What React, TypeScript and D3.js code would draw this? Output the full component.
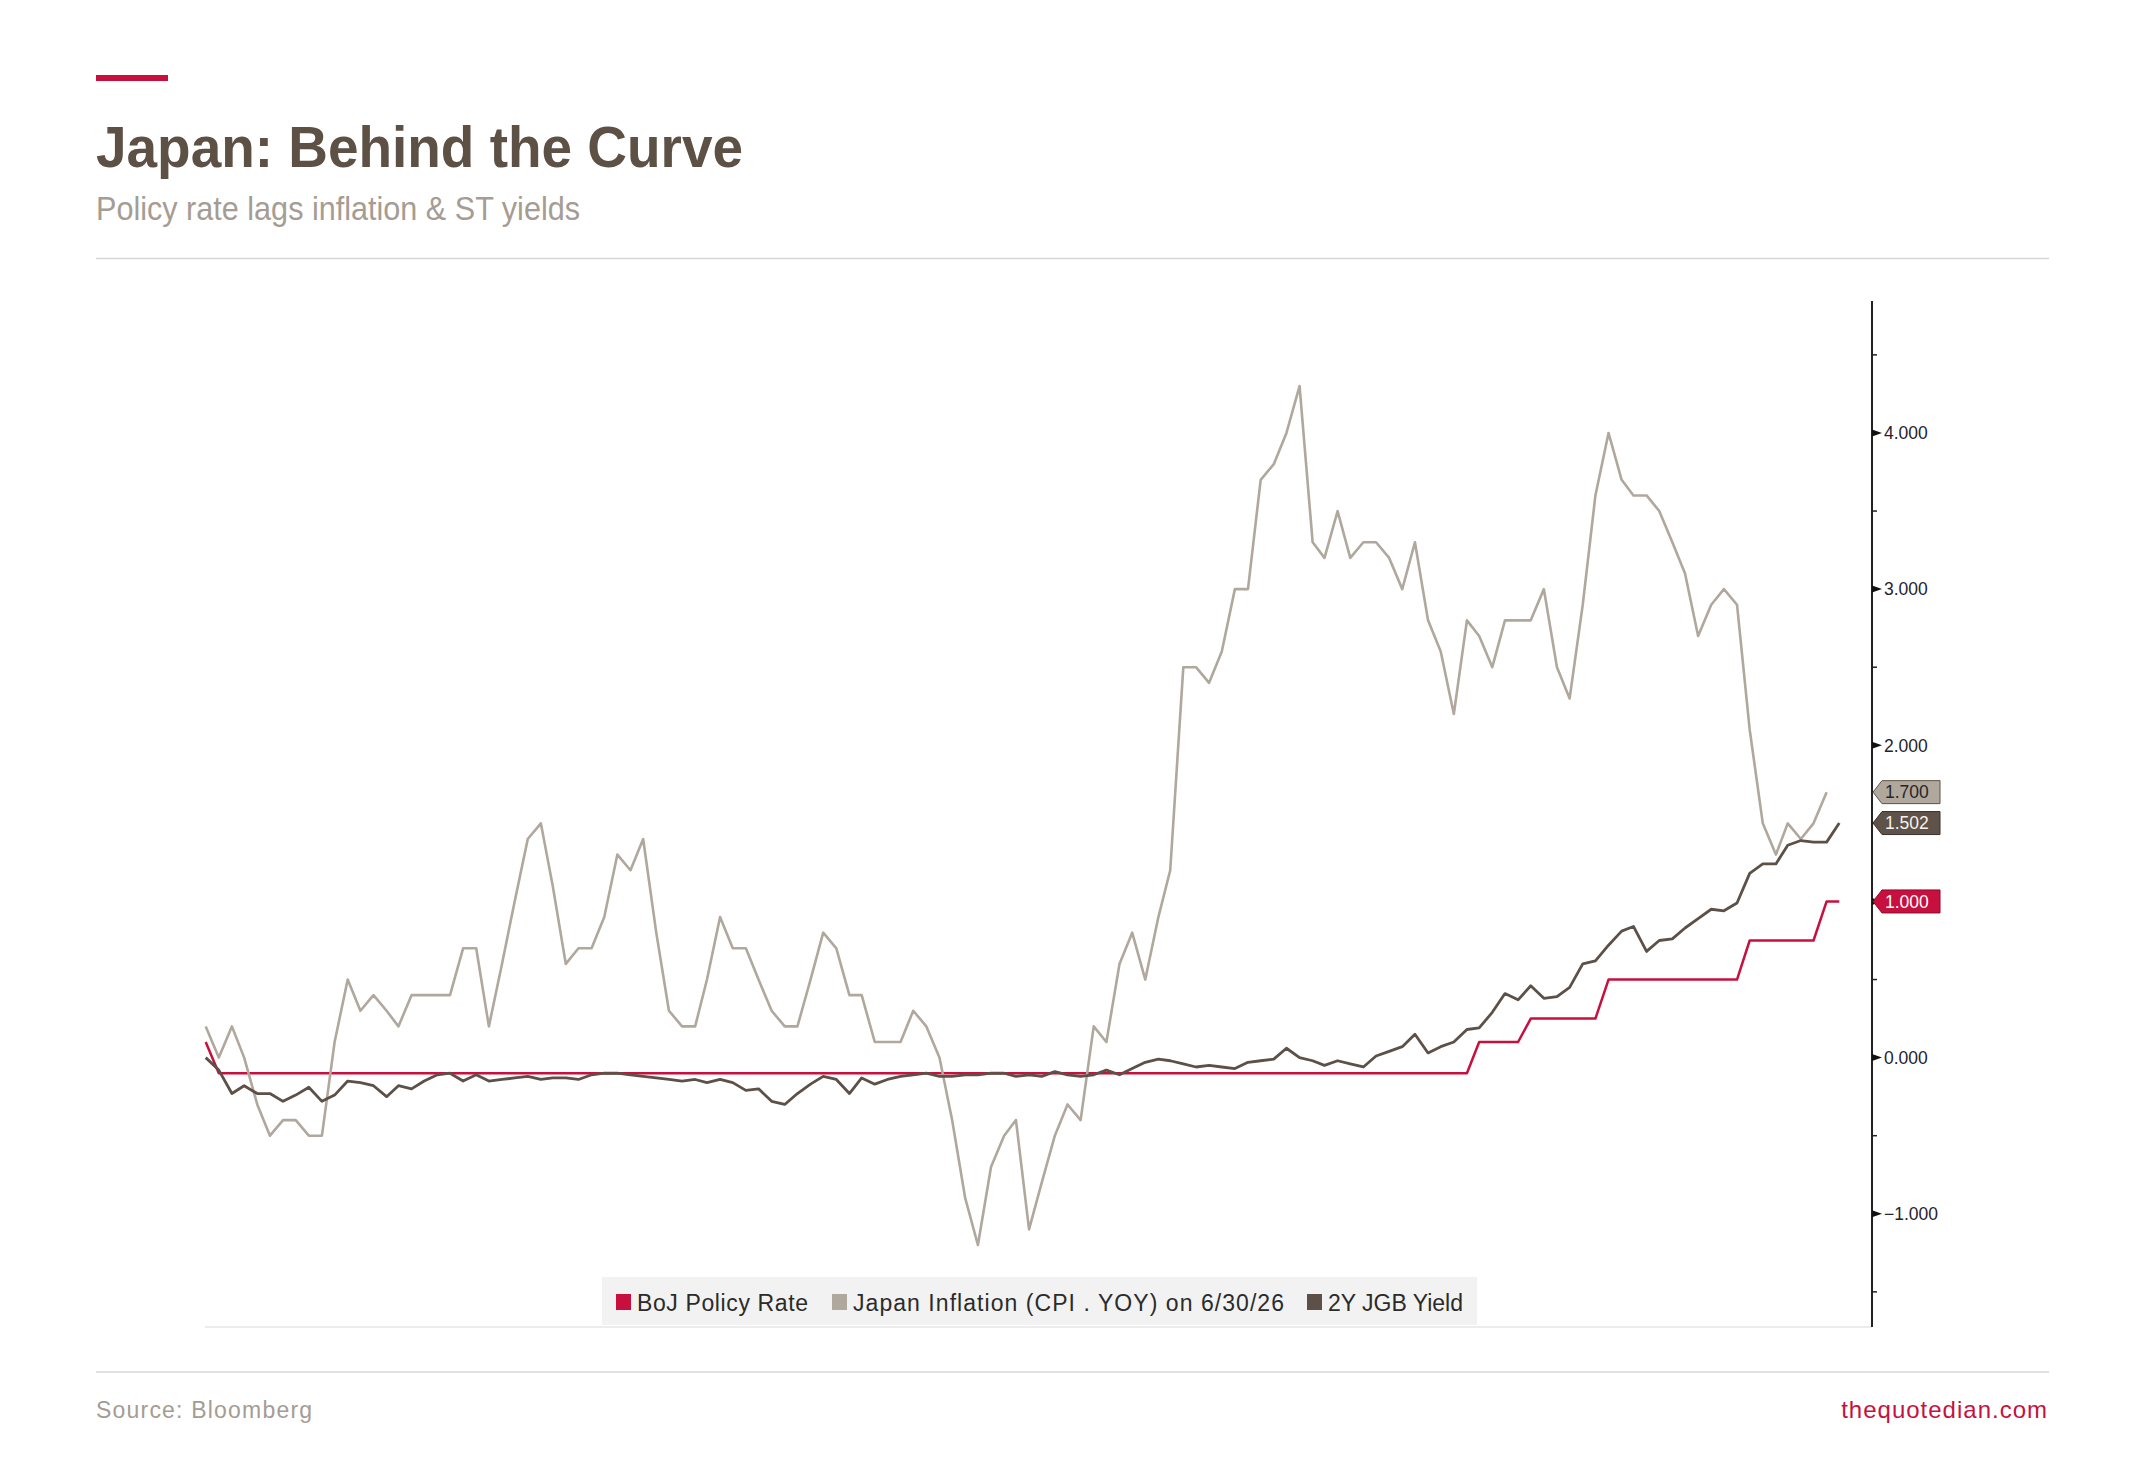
import { useEffect } from "react"
import * as d3 from "d3"

// Monthly observations, Dec 2015 .. Jul 2026
const months = d3.timeMonths(new Date(2015, 11, 1), new Date(2026, 7, 1))

// Japan CPI YoY (%), one month shorter than the other two series
const inflation = [
  0.2, 0.0, 0.2, 0.0, -0.3, -0.5, -0.4, -0.4, -0.5, -0.5, 0.1, 0.5, 0.3,
  0.4, 0.3, 0.2, 0.4, 0.4, 0.4, 0.4, 0.7, 0.7, 0.2, 0.6, 1.0,
  1.4, 1.5, 1.1, 0.6, 0.7, 0.7, 0.9, 1.3, 1.2, 1.4, 0.8, 0.3,
  0.2, 0.2, 0.5, 0.9, 0.7, 0.7, 0.5, 0.3, 0.2, 0.2, 0.5, 0.8,
  0.7, 0.4, 0.4, 0.1, 0.1, 0.1, 0.3, 0.2, 0.0, -0.4, -0.9, -1.2,
  -0.7, -0.5, -0.4, -1.1, -0.8, -0.5, -0.3, -0.4, 0.2, 0.1, 0.6, 0.8,
  0.5, 0.9, 1.2, 2.5, 2.5, 2.4, 2.6, 3.0, 3.0, 3.7, 3.8, 4.0,
  4.3, 3.3, 3.2, 3.5, 3.2, 3.3, 3.3, 3.2, 3.0, 3.3, 2.8, 2.6,
  2.2, 2.8, 2.7, 2.5, 2.8, 2.8, 2.8, 3.0, 2.5, 2.3, 2.9, 3.6,
  4.0, 3.7, 3.6, 3.6, 3.5, 3.3, 3.1, 2.7, 2.9, 3.0, 2.9, 2.1,
  1.5, 1.3, 1.5, 1.4, 1.5, 1.7,
]

// 2Y JGB yield (%)
const jgb2y = [
  0.0, -0.08, -0.23, -0.18, -0.23, -0.23, -0.28, -0.24, -0.19, -0.28, -0.24, -0.15, -0.16,
  -0.18, -0.25, -0.18, -0.2, -0.15, -0.11, -0.1, -0.15, -0.11, -0.15, -0.14, -0.13,
  -0.12, -0.14, -0.13, -0.13, -0.14, -0.11, -0.1, -0.1, -0.11, -0.12, -0.13, -0.14,
  -0.15, -0.14, -0.16, -0.14, -0.16, -0.21, -0.2, -0.28, -0.3, -0.23, -0.17, -0.12,
  -0.14, -0.23, -0.13, -0.17, -0.14, -0.12, -0.11, -0.1, -0.12, -0.12, -0.11, -0.11,
  -0.1, -0.1, -0.12, -0.11, -0.12, -0.09, -0.11, -0.12, -0.11, -0.08, -0.11, -0.07,
  -0.03, -0.01, -0.02, -0.04, -0.06, -0.05, -0.06, -0.07, -0.03, -0.02, -0.01, 0.06,
  0.0, -0.02, -0.05, -0.02, -0.04, -0.06, 0.01, 0.04, 0.07, 0.15, 0.03, 0.07,
  0.1, 0.18, 0.19, 0.29, 0.41, 0.37, 0.46, 0.38, 0.39, 0.45, 0.6, 0.62,
  0.72, 0.81, 0.84, 0.68, 0.75, 0.76, 0.83, 0.89, 0.95, 0.94, 0.99, 1.18,
  1.24, 1.24, 1.36, 1.39, 1.38, 1.38, 1.502,
]

// BoJ policy rate (%)
const policyRate = [
  0.1, -0.1, -0.1, -0.1, -0.1, -0.1, -0.1, -0.1, -0.1, -0.1, -0.1, -0.1, -0.1,
  -0.1, -0.1, -0.1, -0.1, -0.1, -0.1, -0.1, -0.1, -0.1, -0.1, -0.1, -0.1,
  -0.1, -0.1, -0.1, -0.1, -0.1, -0.1, -0.1, -0.1, -0.1, -0.1, -0.1, -0.1,
  -0.1, -0.1, -0.1, -0.1, -0.1, -0.1, -0.1, -0.1, -0.1, -0.1, -0.1, -0.1,
  -0.1, -0.1, -0.1, -0.1, -0.1, -0.1, -0.1, -0.1, -0.1, -0.1, -0.1, -0.1,
  -0.1, -0.1, -0.1, -0.1, -0.1, -0.1, -0.1, -0.1, -0.1, -0.1, -0.1, -0.1,
  -0.1, -0.1, -0.1, -0.1, -0.1, -0.1, -0.1, -0.1, -0.1, -0.1, -0.1, -0.1,
  -0.1, -0.1, -0.1, -0.1, -0.1, -0.1, -0.1, -0.1, -0.1, -0.1, -0.1, -0.1,
  -0.1, -0.1, 0.1, 0.1, 0.1, 0.1, 0.25, 0.25, 0.25, 0.25, 0.25, 0.25,
  0.5, 0.5, 0.5, 0.5, 0.5, 0.5, 0.5, 0.5, 0.5, 0.5, 0.5, 0.75,
  0.75, 0.75, 0.75, 0.75, 0.75, 1.0, 1.0,
]

const majorTicks = [-1, 0, 1, 2, 3, 4]
const minorTicks = [-1.5, -0.5, 0.5, 1.5, 2.5, 3.5, 4.5]

const legendLabels = ["BoJ Policy Rate", "Japan Inflation (CPI . YOY) on 6/30/26", "2Y JGB Yield"]

// styles
const RED = "#c8103e"
const LIGHT = "#b0a79d"
const DARK = "#5c5047"
const TITLE = "#5d5045"
const MUTED = "#a59c93"
const SANS = "'Liberation Sans', Arial, sans-serif"

const W = 2145
const H = 1458

export default function App() {
  useEffect(() => {
    document.body.style.margin = "0"
    document.body.style.background = "#ffffff"
  }, [])

  const x = d3
    .scaleTime()
    .domain([months[0], months[months.length - 1]])
    .range([205.7, 1839.3])
  const y = d3.scaleLinear().domain([-1.725, 4.845]).range([1327, 301])
  const axisX = 1872

  const line = d3
    .line<number>()
    .x((_, i) => x(months[i]))
    .y((d) => y(d))

  const fmt = d3.format(".3f")

  const series = [
    { values: policyRate, color: RED, width: 2.5 },
    { values: inflation, color: LIGHT, width: 2.6 },
    { values: jgb2y, color: DARK, width: 2.8 },
  ]

  // right-axis value tags
  const tags = [
    { value: inflation[inflation.length - 1], fill: "#b0a79d", stroke: "#5e5249", text: "#262626" },
    { value: jgb2y[jgb2y.length - 1], fill: "#5e5249", stroke: "#3a322c", text: "#f4f1ee" },
    { value: policyRate[policyRate.length - 1], fill: RED, stroke: "#8e0a2b", text: "#ffffff" },
  ]
  const tagPath = (cy: number) => {
    const h = 11.5
    return `M${axisX + 1},${cy} L${axisX + 10},${cy - h} L${axisX + 68},${cy - h} L${axisX + 68},${cy + h} L${axisX + 10},${cy + h} Z`
  }

  const legendColors = [RED, LIGHT, DARK]
  const legendSwatchX = [616, 832, 1307]
  const legendTextLen = [171, 431, 135]

  return (
    <svg width={W} height={H} viewBox={`0 0 ${W} ${H}`} style={{ display: "block", background: "#fff" }}>
      {/* header */}
      <rect x={96} y={75} width={72} height={6} fill={RED} />
      <text x={96} y={167} fontFamily={SANS} fontWeight={700} fontSize={58} fill={TITLE} textLength={647} lengthAdjust="spacingAndGlyphs">
        Japan: Behind the Curve
      </text>
      <text x={96} y={220} fontFamily={SANS} fontSize={33} fill={MUTED} textLength={484} lengthAdjust="spacingAndGlyphs">
        Policy rate lags inflation &amp; ST yields
      </text>
      <line x1={96} x2={2049} y1={258.5} y2={258.5} stroke="#d6d6d6" strokeWidth={1.5} />

      {/* plot frame */}
      <line x1={205} x2={axisX} y1={1327} y2={1327} stroke="#e6e6e6" strokeWidth={1.5} />

      {/* legend */}
      <rect x={602} y={1277} width={875} height={48} fill="#f2f2f2" />
      {legendLabels.map((label, i) => (
        <g key={label}>
          <rect x={legendSwatchX[i]} y={1294} width={15} height={16} fill={legendColors[i]} />
          <text
            x={legendSwatchX[i] + 21}
            y={1311}
            fontFamily={SANS}
            fontSize={23}
            fill="#2b2b2b"
            textLength={legendTextLen[i]}
            lengthAdjust="spacing"
          >
            {label}
          </text>
        </g>
      ))}

      {/* series */}
      {series.map((s, i) => (
        <path
          key={i}
          d={line(s.values) ?? ""}
          fill="none"
          stroke={s.color}
          strokeWidth={s.width}
          strokeLinejoin="round"
        />
      ))}

      {/* right axis */}
      <line x1={axisX} x2={axisX} y1={301} y2={1327} stroke="#222" strokeWidth={2} />
      {minorTicks.map((t) => (
        <line key={t} x1={axisX} x2={axisX + 5} y1={y(t)} y2={y(t)} stroke="#222" strokeWidth={1.5} />
      ))}
      {majorTicks.map((t) => (
        <g key={t}>
          <path d={`M${axisX},${y(t) - 3.5} L${axisX + 10},${y(t)} L${axisX},${y(t) + 3.5} Z`} fill="#111" />
          <text x={axisX + 12} y={y(t)} dy="0.36em" fontFamily={SANS} fontSize={17.5} fill="#1f2430">
            {fmt(t)}
          </text>
        </g>
      ))}

      {tags.map((t, i) => (
        <g key={i}>
          <path d={tagPath(y(t.value))} fill={t.fill} stroke={t.stroke} strokeWidth={1} />
          <text x={axisX + 13} y={y(t.value)} dy="0.36em" fontFamily={SANS} fontSize={17.5} fill={t.text}>
            {fmt(t.value)}
          </text>
        </g>
      ))}

      {/* footer */}
      <line x1={96} x2={2049} y1={1372} y2={1372} stroke="#d6d6d6" strokeWidth={1.5} />
      <text x={96} y={1418} fontFamily={SANS} fontSize={23} fill={MUTED} letterSpacing={1.2}>
        Source: Bloomberg
      </text>
      <text x={2048} y={1418} textAnchor="end" fontFamily={SANS} fontSize={24} fill={RED} letterSpacing={1}>
        thequotedian.com
      </text>
    </svg>
  )
}
